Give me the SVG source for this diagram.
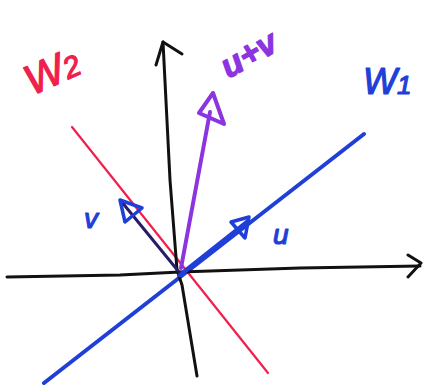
<svg xmlns="http://www.w3.org/2000/svg" width="423" height="385" viewBox="0 0 423 385">
<style>
.ax{stroke:#111;stroke-width:3;fill:none;stroke-linecap:round;stroke-linejoin:round}
.blue{stroke:#1f3fd8;fill:none;stroke-linecap:round;stroke-linejoin:round}
.red{stroke:#f0204c;fill:none;stroke-width:2.2;stroke-linecap:round}
.pur{stroke:#8b34e0;fill:none;stroke-width:4;stroke-linecap:round;stroke-linejoin:round}
.lbl{font-family:"Liberation Sans",Arial,sans-serif;font-style:italic;stroke-width:1.2;stroke-linejoin:round}
</style>
<rect width="423" height="385" fill="#fff"/>
<g id="connectors">
  <line class="red" x1="72" y1="127" x2="268" y2="373"/>
  <line class="blue" stroke-width="4" x1="44" y1="383" x2="364" y2="134"/>
  <polyline class="ax" points="7,277 120,275 180,272 300,268 420,266"/>
  <polyline class="ax" points="408,255 421,263 408,277"/>
  <polyline class="ax" points="163,42 170,180 177,270 182,285 197,376"/>
  <polyline class="ax" points="156,65 163,42 182,54"/>
  <line class="blue" stroke-width="4.5" x1="180" y1="275" x2="247" y2="222"/>
  <polygon class="blue" stroke-width="3.5" points="231,222 249,217 245,238"/>
  <line stroke="#2a1a6a" stroke-width="3" stroke-linecap="round" x1="179" y1="272" x2="121" y2="201"/>
  <polygon class="blue" stroke-width="3.5" points="120,200 142,208 125,222"/>
  <line class="pur" x1="181" y1="268" x2="210" y2="112"/>
  <polygon class="pur" points="213,93 199,113 224,124"/>
</g>
<g id="label-W2"><text class="lbl" x="22" y="88" font-size="42" fill="#f0204c" stroke="#f0204c" transform="rotate(-24 45 68)">W<tspan font-size="30">2</tspan></text></g>
<g id="label-uv"><text class="lbl" x="218" y="70" font-size="34" fill="#8b34e0" stroke="#8b34e0" font-weight="bold" transform="rotate(-30 240 55)">u+v</text></g>
<g id="label-W1"><text class="lbl" x="363" y="94" font-size="36" fill="#1f3fd8" stroke="#1f3fd8">W<tspan font-size="26">1</tspan></text></g>
<g id="label-v"><text class="lbl" x="84" y="228" font-size="28" fill="#1f3fd8" stroke="#1f3fd8">v</text></g>
<g id="label-u"><text class="lbl" x="273" y="244" font-size="28" fill="#1f3fd8" stroke="#1f3fd8">u</text></g>
</svg>
